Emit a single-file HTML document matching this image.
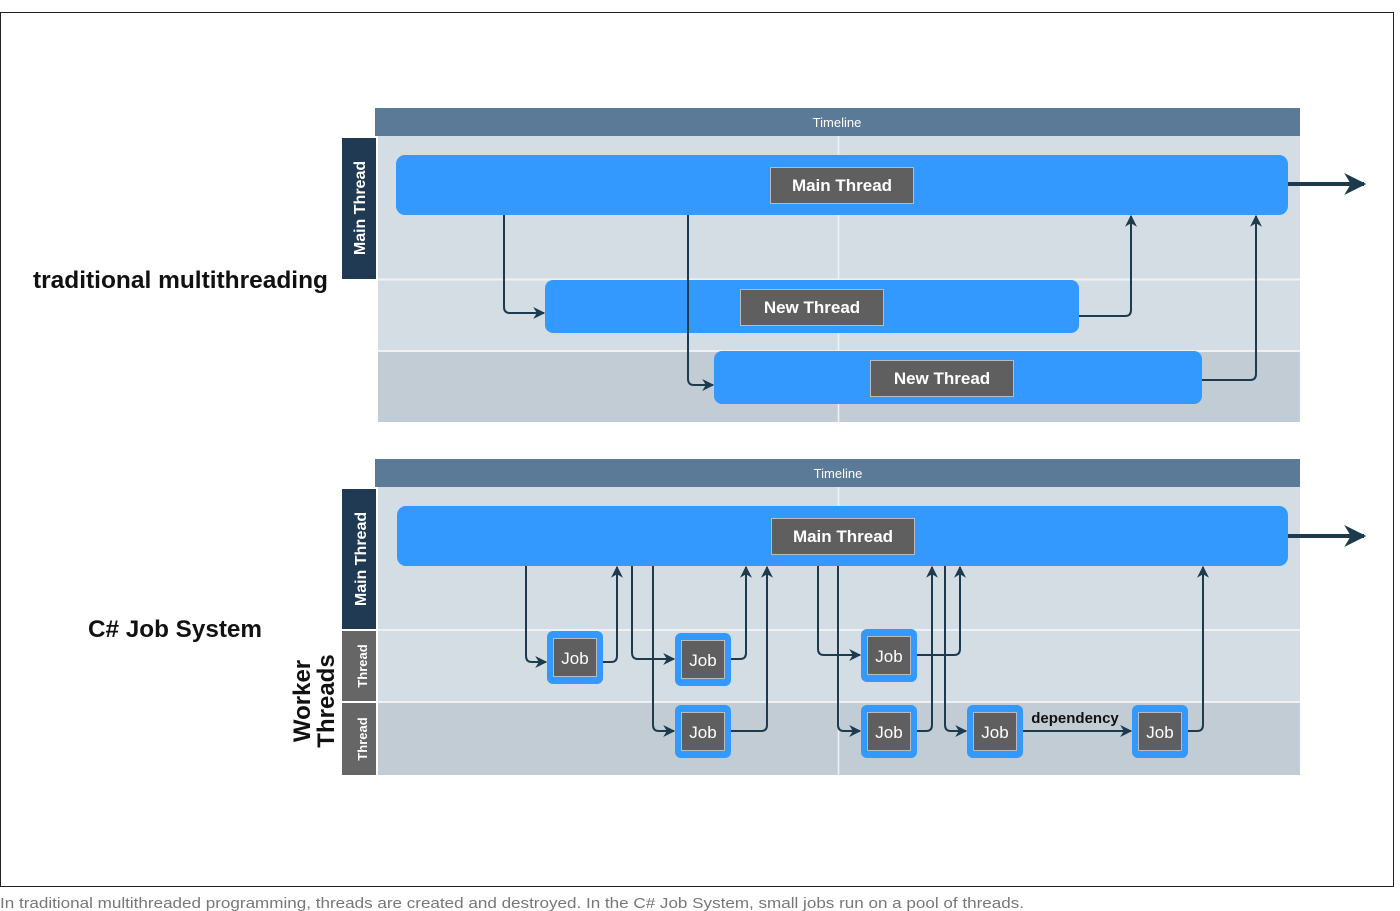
<!DOCTYPE html>
<html><head><meta charset="utf-8"><style>
html,body{margin:0;padding:0;background:#fff;width:1400px;height:911px;overflow:hidden}
svg{display:block}
text{font-family:"Liberation Sans",Arial,sans-serif}
</style></head><body>
<svg width="1400" height="911" viewBox="0 0 1400 911" xmlns="http://www.w3.org/2000/svg">
<defs>
<marker id="a" viewBox="0 0 10 10" refX="9" refY="5" markerWidth="6" markerHeight="6" orient="auto"><path d="M0,0 L10,5 L0,10 L3,5 z" fill="#1d3b4f"/></marker>
<marker id="b" viewBox="0 0 10 10" refX="9" refY="5" markerWidth="5.5" markerHeight="5.5" orient="auto"><path d="M0,0 L10,5 L0,10 L3,5 z" fill="#1d3b4f"/></marker>
</defs>
<rect x="0.5" y="12.5" width="1393" height="874" fill="#fff" stroke="#222" stroke-width="1"/>

<!-- TOP -->
<rect x="375" y="108" width="925" height="28" fill="#5b7a97"/>
<text x="837" y="127" font-size="13" fill="#fff" text-anchor="middle">Timeline</text>
<rect x="378" y="136" width="922" height="286" fill="#d5dde4"/>
<rect x="378" y="352" width="922" height="70" fill="#c2ccd5"/>
<line x1="378" y1="279.5" x2="1300" y2="279.5" stroke="#eef2f5" stroke-width="2"/>
<line x1="378" y1="351" x2="1300" y2="351" stroke="#eef2f5" stroke-width="2"/>
<line x1="838.5" y1="136" x2="838.5" y2="422" stroke="#eef2f5" stroke-width="1.5"/>
<rect x="342" y="138" width="34" height="141" fill="#1f3a52"/>
<text transform="translate(365,208) rotate(-90)" font-size="16" font-weight="bold" fill="#fff" text-anchor="middle">Main Thread</text>
<text x="33" y="288" font-size="24" font-weight="bold" fill="#111" textLength="295" lengthAdjust="spacingAndGlyphs">traditional multithreading</text>

<rect x="396" y="155" width="892" height="60" rx="9" fill="#3399ff"/>
<rect x="770.5" y="167.5" width="143" height="36" fill="#5f5f5f" stroke="#bbb"/>
<text x="842" y="191" font-size="17" font-weight="bold" fill="#fff" text-anchor="middle">Main Thread</text>
<line x1="1288" y1="184" x2="1364" y2="184" stroke="#1d3b4f" stroke-width="4" marker-end="url(#b)"/>

<rect x="545" y="280" width="534" height="53" rx="8" fill="#3399ff"/>
<rect x="740.5" y="289.5" width="143" height="36" fill="#5f5f5f" stroke="#bbb"/>
<text x="812" y="313" font-size="17" font-weight="bold" fill="#fff" text-anchor="middle">New Thread</text>
<rect x="714" y="351" width="488" height="53" rx="8" fill="#3399ff"/>
<rect x="870.5" y="360.5" width="143" height="36" fill="#5f5f5f" stroke="#bbb"/>
<text x="942" y="384" font-size="17" font-weight="bold" fill="#fff" text-anchor="middle">New Thread</text>

<g fill="none" stroke="#1d3b4f" stroke-width="2" marker-end="url(#a)">
<path d="M504,215 V307 Q504,313 510,313 H544"/>
<path d="M688,215 V379 Q688,385 694,385 H713"/>
<path d="M1079,316 H1125 Q1131,316 1131,310 V216"/>
<path d="M1202,380 H1250 Q1256,380 1256,374 V216"/>
</g>

<!-- BOTTOM -->
<rect x="375" y="459" width="925" height="28" fill="#5b7a97"/>
<text x="838" y="478" font-size="13" fill="#fff" text-anchor="middle">Timeline</text>
<rect x="378" y="487" width="922" height="288" fill="#d5dde4"/>
<rect x="378" y="703" width="922" height="72" fill="#c2ccd5"/>
<line x1="378" y1="630" x2="1300" y2="630" stroke="#eef2f5" stroke-width="2"/>
<line x1="378" y1="702" x2="1300" y2="702" stroke="#eef2f5" stroke-width="2"/>
<line x1="838.5" y1="487" x2="838.5" y2="775" stroke="#eef2f5" stroke-width="1.5"/>
<rect x="342" y="489" width="34" height="140" fill="#1f3a52"/>
<text transform="translate(366,559) rotate(-90)" font-size="16" font-weight="bold" fill="#fff" text-anchor="middle">Main Thread</text>
<rect x="342" y="631" width="34" height="70" fill="#666"/>
<text transform="translate(367,666) rotate(-90)" font-size="13" font-weight="bold" fill="#fff" text-anchor="middle">Thread</text>
<rect x="342" y="703" width="34" height="72" fill="#666"/>
<text transform="translate(367,739) rotate(-90)" font-size="13" font-weight="bold" fill="#fff" text-anchor="middle">Thread</text>
<text transform="translate(310,701) rotate(-90)" font-size="24" font-weight="bold" fill="#111" text-anchor="middle">Worker</text>
<text transform="translate(334,701) rotate(-90)" font-size="24" font-weight="bold" fill="#111" text-anchor="middle">Threads</text>
<text x="88" y="637" font-size="24" font-weight="bold" fill="#111" textLength="174" lengthAdjust="spacingAndGlyphs">C# Job System</text>

<rect x="397" y="506" width="891" height="60" rx="9" fill="#3399ff"/>
<rect x="771.5" y="518.5" width="143" height="36" fill="#5f5f5f" stroke="#bbb"/>
<text x="843" y="542" font-size="17" font-weight="bold" fill="#fff" text-anchor="middle">Main Thread</text>
<line x1="1288" y1="536" x2="1364" y2="536" stroke="#1d3b4f" stroke-width="4" marker-end="url(#b)"/>

<g fill="none" stroke="#1d3b4f" stroke-width="2" marker-end="url(#a)">
<path d="M526,566 V656 Q526,662 532,662 H546"/>
<path d="M603,662 H611 Q617,662 617,656 V567"/>
<path d="M632,566 V653 Q632,659 638,659 H674"/>
<path d="M653,566 V725 Q653,731 659,731 H674"/>
<path d="M731,659 H740 Q746,659 746,653 V567"/>
<path d="M731,731 H761 Q767,731 767,725 V567"/>
<path d="M818,566 V649 Q818,655 824,655 H860"/>
<path d="M838,566 V725 Q838,731 844,731 H860"/>
<path d="M917,731 H926 Q932,731 932,725 V567"/>
<path d="M917,655 H954 Q960,655 960,649 V567"/>
<path d="M945,566 V725 Q945,731 951,731 H966"/>
<path d="M1023,731 H1131"/>
<path d="M1188,731 H1197 Q1203,731 1203,725 V567"/>
</g>
<text x="1075" y="723" font-size="15" font-weight="bold" fill="#111" text-anchor="middle">dependency</text>

<g>
<rect x="547" y="631" width="56" height="53" rx="6" fill="#3399ff"/><rect x="553.5" y="638.5" width="43" height="38" fill="#5f5f5f" stroke="#bbb"/><text x="575" y="664" font-size="17" fill="#fff" text-anchor="middle">Job</text>
<rect x="675" y="633" width="56" height="53" rx="6" fill="#3399ff"/><rect x="681.5" y="640.5" width="43" height="38" fill="#5f5f5f" stroke="#bbb"/><text x="703" y="666" font-size="17" fill="#fff" text-anchor="middle">Job</text>
<rect x="675" y="705" width="56" height="53" rx="6" fill="#3399ff"/><rect x="681.5" y="712.5" width="43" height="38" fill="#5f5f5f" stroke="#bbb"/><text x="703" y="738" font-size="17" fill="#fff" text-anchor="middle">Job</text>
<rect x="861" y="629" width="56" height="53" rx="6" fill="#3399ff"/><rect x="867.5" y="636.5" width="43" height="38" fill="#5f5f5f" stroke="#bbb"/><text x="889" y="662" font-size="17" fill="#fff" text-anchor="middle">Job</text>
<rect x="861" y="705" width="56" height="53" rx="6" fill="#3399ff"/><rect x="867.5" y="712.5" width="43" height="38" fill="#5f5f5f" stroke="#bbb"/><text x="889" y="738" font-size="17" fill="#fff" text-anchor="middle">Job</text>
<rect x="967" y="705" width="56" height="53" rx="6" fill="#3399ff"/><rect x="973.5" y="712.5" width="43" height="38" fill="#5f5f5f" stroke="#bbb"/><text x="995" y="738" font-size="17" fill="#fff" text-anchor="middle">Job</text>
<rect x="1132" y="705" width="56" height="53" rx="6" fill="#3399ff"/><rect x="1138.5" y="712.5" width="43" height="38" fill="#5f5f5f" stroke="#bbb"/><text x="1160" y="738" font-size="17" fill="#fff" text-anchor="middle">Job</text>
</g>

<text x="0" y="908" font-size="15" fill="#777" textLength="1024" lengthAdjust="spacingAndGlyphs">In traditional multithreaded programming, threads are created and destroyed. In the C# Job System, small jobs run on a pool of threads.</text>
</svg>
</body></html>
